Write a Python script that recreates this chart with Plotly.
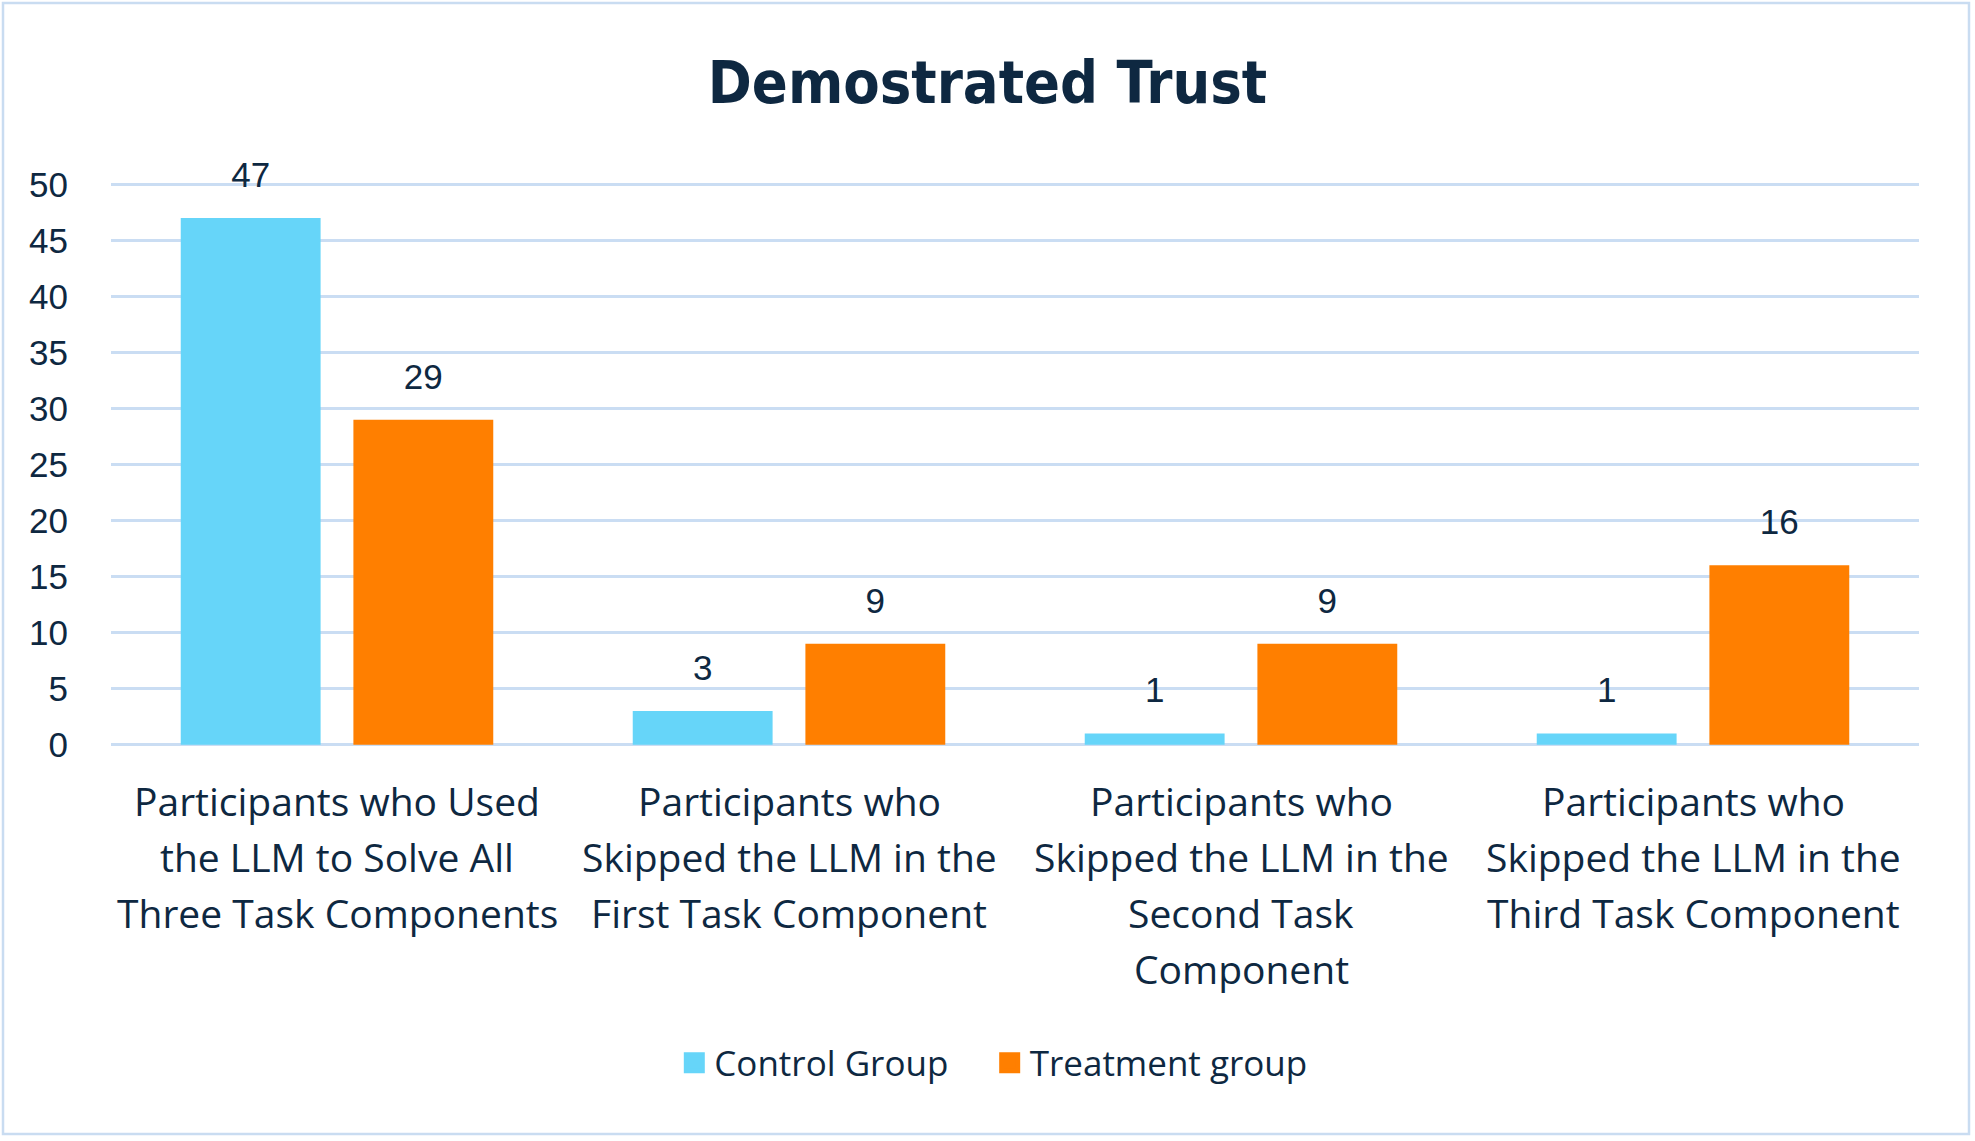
import plotly.graph_objects as go

categories = [
    "Participants who Used<br>the LLM to Solve All<br>Three Task Components",
    "Participants who<br>Skipped the LLM in the<br>First Task Component",
    "Participants who<br>Skipped the LLM in the<br>Second Task<br>Component",
    "Participants who<br>Skipped the LLM in the<br>Third Task Component",
]
control_values = [47, 3, 1, 1]
treatment_values = [29, 9, 9, 16]
series_names = ["Control Group", "Treatment group"]
y_ticks = [0, 5, 10, 15, 20, 25, 30, 35, 40, 45, 50]

W, H = 1975, 1141
ML, MR, MT, MB = 111, 56, 183, 395
PW, PH = W - ML - MR, H - MT - MB

TEXT = "#0E2841"
CYAN = "#66D5F9"
ORANGE = "#FF7F00"
GRID = "#CADDF3"
BORDER = "#C9DCF1"
BARGAP = 0.236
GROUPGAP = 0.19

fig = go.Figure()
for name, vals, col, grp in [(series_names[0], control_values, CYAN, "c"),
                             (series_names[1], treatment_values, ORANGE, "t")]:
    fig.add_trace(go.Bar(x=categories, y=vals, name=name, marker_color=col,
                         marker_line_width=0, offsetgroup=grp,
                         showlegend=False, hoverinfo="skip"))

legend_pad = ["\u00a0\u00a0\u00a0\u00a0", ""]
for i, (name, vals, col, grp) in enumerate([(series_names[0], control_values, CYAN, "c"),
                                            (series_names[1], treatment_values, ORANGE, "t")]):
    fig.add_trace(go.Scatter(x=categories, y=vals, mode="markers+text",
                             text=[str(v) for v in vals], textposition="top center",
                             textfont=dict(family="Liberation Sans", size=35, color=TEXT),
                             marker=dict(size=34, opacity=0, color=col),
                             offsetgroup=grp, showlegend=False, hoverinfo="skip",
                             cliponaxis=False))
    fig.add_trace(go.Scatter(x=[None], y=[None], mode="markers", name=name + legend_pad[i],
                             marker=dict(symbol="square", size=22, color=col,
                                         line=dict(color=col, width=5)),
                             offsetgroup=grp, showlegend=True))

# category labels, one line per annotation for Office-like line spacing
annotations = []
for cat in categories:
    for j, line in enumerate(cat.split("<br>")):
        annotations.append(dict(x=cat, xref="x", y=0, yref="paper", text=line,
                                showarrow=False, yanchor="middle", xanchor="center",
                                yshift=-(54 + 56 * j),
                                font=dict(family="Open Sans", size=39, color=TEXT)))

fig.update_layout(
    width=W, height=H,
    margin=dict(l=ML, r=MR, t=MT, b=MB),
    paper_bgcolor="white", plot_bgcolor="white",
    barmode="group", bargap=BARGAP, bargroupgap=GROUPGAP,
    scattermode="group", scattergap=BARGAP,
    title=dict(text="<b>Demostrated Trust</b>", x=0.5, xanchor="center",
               xref="container", y=1 - 82 / H, yanchor="middle", yref="container",
               font=dict(family="DejaVu Sans Condensed, Roboto, sans-serif",
                         size=59, color=TEXT)),
    showlegend=True,
    legend=dict(orientation="h", x=0.488, xanchor="center", y=-0.563, yanchor="middle",
                font=dict(family="Open Sans", size=35, color=TEXT),
                itemwidth=30, bgcolor="rgba(0,0,0,0)"),
    xaxis=dict(showgrid=False, showline=False, zeroline=False, ticks="",
               showticklabels=False),
    yaxis=dict(range=[-0.12, 50.12], tickvals=y_ticks, showgrid=True, gridcolor=GRID,
               gridwidth=2.5, zeroline=False, showline=False, ticks="",
               ticklabelstandoff=42,
               tickfont=dict(family="Liberation Sans", size=35, color=TEXT)),
    annotations=annotations,
    shapes=[dict(type="rect", xref="paper", yref="paper",
                 x0=(3 - ML) / PW, x1=(1969 - ML) / PW,
                 y0=-(1134 - MT - PH) / PH, y1=1 + (MT - 3) / PH,
                 line=dict(color=BORDER, width=2.5), fillcolor="rgba(0,0,0,0)",
                 layer="below")],
)

fig.write_html("out.html", config={"displayModeBar": False},
               post_script="document.body.style.margin='0';")
